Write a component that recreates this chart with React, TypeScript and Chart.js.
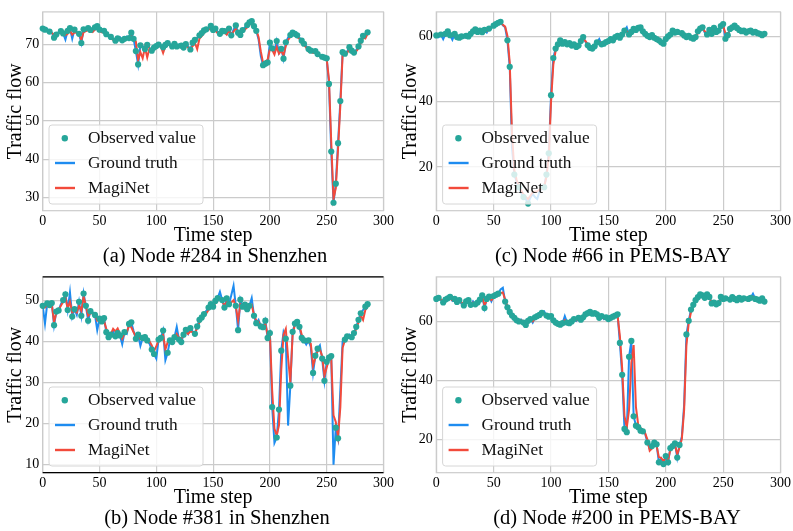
import React, { useEffect, useRef } from 'react';
import { Chart, registerables } from 'chart.js';

Chart.register(...registerables);

const _ = null;
// time axis (every second time step)
const timeSteps: number[] = Array.from({ length: 144 }, (_v, i) => i * 2);
const xTicks = [0, 50, 100, 150, 200, 250, 300];

// (a) Node #284 in Shenzhen
const yTicksA = [30, 40, 50, 60, 70];
const gtA = [
  74.2, 73.9, 74.1, 73.4, 73.1, 71.8, 72.6, 73.2, 73.5, 72.9,
  71.3, 73.6, 74.3, 71.5, 73.9, 73.2, 72.8, 70.4, 74.0, 73.6,
  74.3, 73.8, 73.5, 74.5, 74.8, 73.9, 73.3, 73.6, 72.7, 72.3,
  72.0, 71.5, 71.0, 71.6, 71.9, 71.1, 71.5, 72.1, 71.7, 73.1,
  71.5, 68.3, 64.8, 69.8, 69.6, 68.8, 69.9, 69.1, 68.4, 69.2,
  69.6, 70.0, 69.8, 69.3, 69.9, 70.4, 70.1, 69.5, 70.2, 69.5,
  70.0, 69.7, 69.2, 70.1, 69.5, 68.7, 70.5, 71.2, 71.7, 72.4,
  73.0, 73.7, 74.0, 74.4, 74.9, 73.8, 74.2, 73.4, 72.8, 73.6,
  73.5, 72.8, 74.2, 72.4, 73.9, 75.0, 73.1, 72.5, 73.8, 74.5,
  75.1, 75.8, 76.1, 74.8, 73.6, 71.4, 67.0, 64.6, 65.0, 65.3,
  70.5, 69.0, 68.2, 70.9, 67.8, 68.9, 66.3, 70.6, 71.8, 72.5,
  73.1, 72.8, 72.4, 71.8, 71.0, 70.2, 69.6, 68.8, 68.4, 68.1,
  68.3, 67.5, 67.1, 66.8, 66.6, 66.4, 59.7, 42.0, 28.6, 33.6,
  44.2, 55.2, 68.0, 67.6, 68.2, 69.3, 68.4, 67.9, 68.6, 69.5,
  71.0, 72.3, 72.0, 73.2,
];
const predA = [
  73.8, 73.6, 73.8, 73.6, 73.0, 72.6, 72.4, 73.0, 73.2, 72.9,
  72.4, 72.8, 73.6, 72.6, 73.2, 73.0, 72.9, 71.2, 73.2, 73.5,
  73.8, 73.6, 73.3, 73.9, 74.2, 73.6, 73.2, 73.2, 72.4, 72.2,
  71.6, 71.2, 70.9, 71.3, 71.5, 71.0, 71.2, 71.8, 71.6, 72.3,
  71.6, 70.8, 66.0, 68.0, 66.4, 69.2, 66.6, 69.0, 68.2, 68.6,
  69.4, 69.6, 69.5, 67.8, 69.6, 70.0, 69.8, 69.4, 69.8, 69.3,
  69.6, 69.4, 69.0, 69.7, 69.2, 68.6, 69.6, 70.4, 68.8, 71.6,
  72.2, 73.1, 73.6, 73.9, 74.2, 73.5, 73.6, 73.0, 72.7, 73.2,
  73.2, 72.6, 73.6, 72.6, 73.4, 74.2, 73.0, 72.6, 73.4, 73.9,
  74.5, 75.2, 75.4, 74.6, 73.8, 72.0, 68.2, 65.2, 65.6, 66.0,
  68.8, 68.6, 67.4, 69.4, 67.6, 68.4, 67.2, 69.6, 71.2, 72.0,
  72.6, 72.4, 72.0, 71.5, 70.8, 70.0, 69.2, 68.2, 68.2, 67.8,
  67.9, 67.2, 66.9, 66.6, 66.4, 66.2, 60.8, 44.5, 29.6, 32.4,
  42.8, 54.0, 67.2, 67.4, 67.8, 68.8, 68.2, 67.6, 68.2, 69.0,
  70.4, 71.8, 71.6, 72.8,
];
const obsA = [
  74.2, 73.9, _, 73.4, _, 71.8, 72.6, _, 73.5, 72.9,
  _, 73.6, 74.3, _, 73.9, _, 72.8, 70.4, 74.0, _,
  74.3, 73.8, _, 74.5, 74.8, 73.9, _, 73.6, 72.7, _,
  72.0, _, 71.0, 71.6, _, 71.1, 71.5, _, 71.7, 73.1,
  71.5, 68.3, 64.8, 69.8, _, 68.8, 69.9, _, 68.4, 69.2,
  69.6, 70.0, _, 69.3, 69.9, 70.4, _, 69.5, 70.2, 69.5,
  _, 69.7, 69.2, 70.1, _, 68.7, 70.5, 71.2, _, 72.4,
  73.0, 73.7, 74.0, _, 74.9, 73.8, 74.2, _, 72.8, 73.6,
  73.5, _, 74.2, 72.4, _, 75.0, 73.1, 72.5, 73.8, _,
  75.1, 75.8, 76.1, 74.8, 73.6, _, _, 64.6, 65.0, 65.3,
  70.5, 69.0, _, 70.9, _, 68.9, 66.3, 70.6, _, 72.5,
  73.1, 72.8, 72.4, _, 71.0, 70.2, _, 68.8, 68.4, _,
  68.3, 67.5, _, 66.8, 66.6, 66.4, 59.7, 42.0, 28.6, 33.6,
  44.2, 55.2, 68.0, 67.6, _, 69.3, 68.4, 67.9, _, 69.5,
  71.0, 72.3, _, 73.2,
];

// (b) Node #381 in Shenzhen
const yTicksB = [10, 20, 30, 40, 50];
const gtB = [
  48.6, 44.3, 49.2, 48.8, 49.3, 43.9, 47.2, 47.5, 49.0, 50.0,
  51.4, 47.6, 51.9, 46.0, 47.8, 46.4, 49.6, 46.2, 51.6, 48.6,
  45.0, 47.3, 47.0, 46.4, 42.7, 45.5, 44.8, 45.6, 42.2, 41.0,
  41.6, 42.4, 41.2, 42.0, 41.4, 39.3, 42.2, 41.8, 44.2, 44.6,
  42.5, 40.6, 41.6, 38.9, 40.8, 41.0, 40.2, 39.4, 38.0, 36.9,
  35.8, 40.4, 40.8, 42.6, 35.4, 37.2, 40.2, 39.8, 41.0, 43.5,
  40.4, 39.8, 41.6, 42.8, 41.8, 43.2, 42.4, 41.8, 43.6, 45.2,
  45.8, 46.6, 47.4, 48.2, 49.0, 48.4, 49.8, 50.5, 52.0, 50.0,
  48.2, 50.4, 49.0, 51.2, 53.5, 48.6, 42.7, 50.1, 48.4, 48.9,
  47.8, 48.6, 50.5, 46.2, 44.4, 45.2, 43.6, 43.4, 45.0, 40.8,
  42.0, 24.0, 15.3, 16.6, 23.4, 37.7, 42.2, 40.6, 19.5, 29.2,
  42.3, 44.3, 44.7, 43.5, 40.8, 40.2, 39.2, 40.2, 38.6, 32.3,
  36.5, 38.2, 39.0, 35.8, 30.4, 35.0, 36.0, 36.4, 10.0, 19.0,
  16.4, 28.0, 40.0, 40.4, 41.2, 41.6, 41.0, 42.0, 43.5, 45.2,
  46.8, 47.6, 48.4, 49.0,
];
const predB = [
  48.4, 48.2, 48.8, 48.6, 49.0, 44.6, 47.0, 47.6, 48.6, 49.6,
  50.6, 48.0, 49.6, 47.0, 47.6, 47.0, 48.6, 47.4, 50.8, 48.6,
  46.2, 46.8, 46.8, 46.6, 45.0, 45.2, 45.2, 45.0, 43.0, 42.0,
  41.8, 43.0, 42.4, 43.1, 41.8, 40.6, 42.0, 42.2, 43.8, 43.4,
  42.2, 41.2, 41.4, 40.6, 41.0, 41.4, 40.6, 40.0, 39.0, 37.6,
  38.8, 40.2, 40.8, 41.6, 38.0, 39.8, 40.2, 39.8, 40.6, 41.8,
  40.8, 40.6, 41.4, 42.2, 41.8, 42.4, 42.2, 42.0, 43.2, 44.6,
  45.4, 46.2, 46.8, 47.6, 48.4, 48.6, 49.2, 49.8, 50.4, 49.8,
  48.6, 49.6, 49.0, 49.4, 50.0, 48.4, 45.0, 49.0, 48.6, 48.6,
  48.0, 48.4, 48.8, 46.4, 45.0, 44.8, 43.8, 43.6, 44.2, 41.6,
  41.8, 28.0, 18.8, 17.0, 19.6, 33.0, 41.6, 43.0, 36.0, 30.0,
  41.6, 44.0, 44.4, 43.8, 41.6, 40.6, 39.8, 40.0, 39.4, 34.0,
  36.0, 37.6, 38.0, 36.4, 31.6, 33.6, 35.6, 35.8, 22.0, 20.4,
  16.8, 24.0, 38.4, 40.2, 40.8, 41.2, 41.2, 41.8, 43.0, 44.6,
  46.2, 45.2, 47.6, 48.4,
];
const obsB = [
  48.6, _, 49.2, 48.8, 49.3, 43.9, 47.2, 47.5, _, 50.0,
  51.4, 47.6, _, 46.0, 47.8, _, 49.6, 46.2, 51.6, 48.6,
  45.0, 47.3, _, 46.4, _, 45.5, 44.8, 45.6, 42.2, 41.0,
  41.6, _, 41.2, 42.0, 41.4, _, 42.2, _, 44.2, 44.6,
  _, 40.6, 41.6, _, 40.8, 41.0, 40.2, _, 38.0, 36.9,
  _, 40.4, 40.8, 42.6, _, 37.2, 40.2, 39.8, 41.0, _,
  40.4, 39.8, 41.6, 42.8, _, 43.2, _, 41.8, 43.6, 45.2,
  45.8, 46.6, _, 48.2, 49.0, 48.4, 49.8, 50.5, _, 50.0,
  48.2, 50.4, 49.0, _, _, 48.6, 42.7, 50.1, 48.4, 48.9,
  47.8, 48.6, _, 46.2, 44.4, _, 43.6, 43.4, 45.0, 40.8,
  42.0, 24.0, _, 16.6, 23.4, 37.7, _, 40.6, _, 29.2,
  42.3, 44.3, 44.7, 43.5, 40.8, 40.2, _, 40.2, _, 32.3,
  36.5, 38.2, _, 35.8, 30.4, 35.0, 36.0, 36.4, _, 19.0,
  16.4, _, _, 40.4, 41.2, _, 41.0, 42.0, 43.5, 45.2,
  46.8, _, 48.4, 49.0,
];

// (c) Node #66 in PEMS-BAY
const yTicksC = [20, 40, 60];
const gtC = [
  60.3, 59.8, 60.6, 59.2, 60.8, 61.6, 60.4, 59.0, 60.8, 59.8,
  59.6, 60.0, 59.6, 60.2, 60.0, 60.8, 61.6, 62.2, 61.4, 61.8,
  61.3, 62.0, 61.2, 62.4, 63.0, 63.3, 63.8, 64.2, 64.5, 63.4,
  62.8, 58.8, 50.7, 26.0, 17.7, 15.5, 13.8, 12.0, 10.8, 10.2,
  8.8, 10.6, 11.8, 10.8, 10.2, 12.6, 13.4, 13.8, 17.7, 24.2,
  42.0, 53.4, 56.3, 57.6, 58.8, 57.8, 58.3, 57.6, 58.0, 57.2,
  57.6, 56.8, 57.2, 58.6, 59.8, 58.4, 57.3, 56.5, 56.3, 57.0,
  58.2, 59.2, 57.6, 57.8, 58.3, 58.6, 59.2, 58.8, 59.8, 60.2,
  59.6, 60.6, 61.8, 62.8, 60.6, 61.4, 62.3, 62.0, 62.6, 62.8,
  61.6, 60.8, 60.2, 59.8, 60.4, 59.6, 59.2, 58.8, 58.2, 57.8,
  59.2, 60.0, 60.6, 61.8, 61.2, 61.4, 60.8, 61.0, 60.3, 59.8,
  60.2, 59.6, 59.3, 59.8, 61.6, 62.4, 62.8, 61.2, 60.6, 62.0,
  60.8, 62.6, 61.4, 61.8, 63.2, 63.8, 59.3, 60.4, 62.3, 62.8,
  63.3, 62.6, 62.0, 61.6, 61.8, 61.2, 61.6, 61.8, 61.2, 61.4,
  61.0, 60.8, 60.4, 60.8,
];
const predC = [
  60.4, 60.2, 60.6, 60.4, 60.6, 61.0, 60.8, 60.2, 60.4, 60.0,
  59.8, 60.0, 59.8, 60.0, 60.2, 60.6, 61.2, 61.8, 61.6, 61.6,
  61.4, 61.8, 61.6, 62.2, 62.8, 63.2, 63.6, 64.0, 64.2, 63.6,
  63.0, 60.2, 52.0, 30.0, 19.0, 16.0, 14.4, 12.8, 11.6, 10.8,
  10.2, 11.2, 12.2, 12.4, 12.6, 13.0, 13.4, 14.0, 17.0, 23.0,
  40.0, 51.4, 55.6, 57.0, 58.2, 58.0, 58.0, 57.8, 57.8, 57.4,
  57.4, 57.2, 57.4, 58.2, 59.2, 58.6, 57.6, 57.0, 56.8, 57.2,
  57.8, 58.4, 58.0, 57.8, 58.2, 58.6, 59.0, 59.0, 59.6, 60.0,
  59.8, 60.4, 61.2, 61.6, 61.0, 61.4, 62.0, 62.0, 62.4, 62.4,
  61.6, 61.0, 60.4, 60.0, 60.2, 59.8, 59.4, 59.0, 58.6, 58.4,
  59.2, 59.8, 60.4, 61.2, 61.2, 61.2, 60.8, 60.8, 60.4, 60.0,
  60.2, 59.8, 59.6, 59.8, 61.0, 62.0, 62.4, 61.6, 61.0, 61.6,
  61.0, 62.0, 61.6, 61.8, 62.8, 63.2, 61.0, 60.6, 62.0, 62.6,
  63.0, 62.6, 62.2, 61.8, 61.8, 61.4, 61.6, 61.6, 61.4, 61.2,
  61.0, 60.8, 60.6, 60.6,
];
const obsC = [
  60.3, _, 60.6, _, 60.8, 61.6, 60.4, _, 60.8, 59.8,
  59.6, 60.0, _, 60.2, 60.0, 60.8, 61.6, 62.2, 61.4, 61.8,
  61.3, 62.0, _, 62.4, _, 63.3, 63.8, 64.2, 64.5, _,
  _, 58.8, 50.7, _, 17.7, _, 13.8, _, 10.8, _,
  8.8, _, _, _, _, _, _, 13.8, 17.7, 24.2,
  42.0, 53.4, 56.3, 57.6, 58.8, 57.8, 58.3, 57.6, 58.0, 57.2,
  57.6, 56.8, 57.2, 58.6, 59.8, _, 57.3, 56.5, 56.3, 57.0,
  58.2, _, 57.6, 57.8, 58.3, 58.6, 59.2, 58.8, 59.8, 60.2,
  59.6, 60.6, 61.8, _, 60.6, 61.4, 62.3, 62.0, 62.6, 62.8,
  61.6, 60.8, 60.2, 59.8, 60.4, 59.6, 59.2, 58.8, 58.2, 57.8,
  59.2, 60.0, 60.6, 61.8, 61.2, 61.4, _, 61.0, 60.3, 59.8,
  60.2, 59.6, 59.3, 59.8, 61.6, 62.4, 62.8, _, 60.6, 62.0,
  60.8, 62.6, 61.4, 61.8, 63.2, 63.8, 59.3, 60.4, 62.3, 62.8,
  63.3, 62.6, 62.0, 61.6, 61.8, 61.2, 61.6, 61.8, 61.2, 61.4,
  61.0, 60.8, 60.4, 60.8,
];

// (d) Node #200 in PEMS-BAY
const yTicksD = [20, 40, 60];
const gtD = [
  67.6, 68.0, 67.2, 66.4, 67.4, 67.8, 68.3, 67.0, 67.6, 66.6,
  67.2, 66.0, 65.4, 66.8, 67.2, 65.6, 66.8, 65.8, 66.4, 67.4,
  68.8, 64.5, 67.6, 68.4, 66.8, 68.6, 69.0, 69.4, 70.8, 71.4,
  66.7, 64.8, 63.2, 62.0, 61.2, 60.4, 60.0, 60.6, 59.6, 58.8,
  60.2, 60.8, 59.6, 61.4, 61.8, 62.2, 62.9, 63.4, 62.0, 61.6,
  61.8, 60.4, 59.6, 59.2, 58.9, 59.4, 61.8, 59.6, 59.4, 60.0,
  60.8, 60.2, 61.2, 60.6, 61.4, 62.4, 62.8, 63.2, 62.6, 62.8,
  62.4, 61.2, 61.8, 60.8, 61.4, 60.8, 61.2, 61.6, 62.0, 62.4,
  52.7, 41.9, 23.6, 22.5, 48.0, 53.4, 27.9, 24.7, 24.2, 23.0,
  22.8, 22.0, 19.0, 16.8, 17.8, 19.0, 18.4, 12.3, 13.6, 11.7,
  14.4, 12.3, 17.1, 17.8, 18.7, 13.9, 18.2, 20.9, 31.7, 55.6,
  60.2, 64.0, 65.6, 67.2, 68.2, 69.2, 68.8, 68.0, 69.2, 68.3,
  66.1, 66.4, 65.8, 66.2, 68.3, 67.6, 67.8, 68.0, 67.4, 68.2,
  67.6, 67.2, 68.0, 67.4, 67.8, 67.2, 67.6, 68.0, 69.4, 67.6,
  67.4, 67.0, 67.8, 66.7,
];
const predD = [
  67.4, 67.6, 67.4, 67.0, 67.2, 67.6, 67.8, 67.2, 67.2, 66.8,
  66.8, 66.4, 66.0, 66.4, 66.8, 66.2, 66.4, 66.2, 66.4, 67.0,
  68.2, 65.6, 67.0, 68.0, 67.2, 68.0, 68.6, 68.8, 69.6, 69.8,
  67.4, 65.2, 63.6, 62.4, 61.6, 60.8, 60.4, 60.4, 60.0, 59.4,
  60.0, 60.4, 60.0, 61.0, 61.4, 61.8, 62.4, 62.8, 62.0, 61.6,
  61.6, 60.6, 59.8, 59.4, 59.2, 59.4, 60.4, 59.8, 59.6, 60.0,
  60.4, 60.4, 60.8, 60.8, 61.2, 62.0, 62.4, 62.8, 62.6, 62.6,
  62.2, 61.4, 61.6, 61.0, 61.2, 61.0, 61.0, 61.4, 61.8, 62.0,
  55.0, 44.0, 28.0, 24.0, 30.0, 46.0, 52.0, 31.0, 25.0, 24.0,
  23.0, 22.2, 20.0, 16.2, 17.0, 18.6, 18.0, 14.0, 13.8, 12.6,
  14.2, 13.0, 16.6, 17.4, 18.2, 15.0, 17.4, 20.2, 30.0, 52.0,
  59.4, 63.2, 65.2, 66.6, 67.8, 68.6, 68.4, 67.8, 68.6, 68.0,
  66.6, 66.6, 66.2, 66.4, 67.8, 67.6, 67.6, 67.8, 67.4, 67.8,
  67.4, 67.2, 67.6, 67.4, 67.6, 67.2, 67.4, 67.6, 68.4, 67.6,
  67.2, 67.0, 67.4, 67.0,
];
const obsD = [
  67.6, 68.0, _, 66.4, 67.4, 67.8, 68.3, _, 67.6, 66.6,
  67.2, _, 65.4, 66.8, 67.2, 65.6, _, 65.8, 66.4, 67.4,
  68.8, 64.5, 67.6, 68.4, _, 68.6, 69.0, 69.4, _, _,
  66.7, 64.8, 63.2, 62.0, 61.2, 60.4, 60.0, _, 59.6, 58.8,
  60.2, 60.8, _, 61.4, 61.8, 62.2, 62.9, _, 62.0, 61.6,
  61.8, 60.4, 59.6, 59.2, 58.9, 59.4, _, 59.6, 59.4, 60.0,
  60.8, _, 61.2, 60.6, 61.4, 62.4, 62.8, 63.2, 62.6, 62.8,
  62.4, 61.2, 61.8, _, 61.4, 60.8, 61.2, 61.6, 62.0, 62.4,
  52.7, 41.9, 23.6, 22.5, 48.0, 53.4, 27.9, 24.7, 24.2, 23.0,
  22.8, _, 19.0, _, 17.8, 19.0, 18.4, 12.3, _, 11.7,
  14.4, 12.3, 17.1, 17.8, 18.7, 13.9, 18.2, _, _, 55.6,
  60.2, 64.0, 65.6, 67.2, 68.2, 69.2, 68.8, 68.0, 69.2, 68.3,
  66.1, 66.4, 65.8, 66.2, 68.3, 67.6, 67.8, _, 67.4, 68.2,
  67.6, 67.2, 68.0, 67.4, 67.8, _, 67.6, 68.0, _, 67.6,
  67.4, 67.0, 67.8, 66.7,
];

const OBS_COLOR = '#26a69a';
const GT_COLOR = '#1e8cf0';
const PRED_COLOR = '#f24a3b';
const GRID_COLOR = '#cbcbcb';
const FONT = '"Liberation Serif", "Times New Roman", serif';
const TITLE_SIZE = 20;
const TICK_SIZE = 14;
const CAPTION_SIZE = 20.5;

type Spec = {
  caption: string;
  gt: (number | null)[];
  pred: (number | null)[];
  obs: (number | null)[];
  yTicks: number[];
  yMin: number;
  yMax: number;
  left: number;
  top: number;
  width: number;
  height: number;
  areaL: number;
  areaR: number;
  areaT: number;
  areaB: number;
  yTitlePad: number;
  xTitlePad: number;
  blackTB: boolean;
  capX: number;
  capBase: number;
};

const specs: Spec[] = [
  {
    caption: '(a) Node #284 in Shenzhen', gt: gtA, pred: predA, obs: obsA, yTicks: yTicksA,
    yMin: 26.52, yMax: 78.54, left: 0, top: 0, width: 396, height: 265,
    areaL: 42.7, areaR: 386.7, areaT: 5.7, areaB: 210.7, yTitlePad: 4.0, xTitlePad: 17.0,
    blackTB: false, capX: 215, capBase: 261.7,
  },
  {
    caption: '(c) Node #66 in PEMS-BAY', gt: gtC, pred: predC, obs: obsC, yTicks: yTicksC,
    yMin: 6.62, yMax: 67.52, left: 396, top: 0, width: 397, height: 265,
    areaL: 40.3, areaR: 385, areaT: 5.7, areaB: 210.7, yTitlePad: 3.0, xTitlePad: 17.0,
    blackTB: false, capX: 613, capBase: 261.7,
  },
  {
    caption: '(b) Node #381 in Shenzhen', gt: gtB, pred: predB, obs: obsB, yTicks: yTicksB,
    yMin: 8.05, yMax: 55.64, left: 0, top: 265, width: 396, height: 266,
    areaL: 42.7, areaR: 386.7, areaT: 2.7, areaB: 207.7, yTitlePad: 4.0, xTitlePad: 20.8,
    blackTB: true, capX: 217, capBase: 523.7,
  },
  {
    caption: '(d) Node #200 in PEMS-BAY', gt: gtD, pred: predD, obs: obsD, yTicks: yTicksD,
    yMin: 8.78, yMax: 75.07, left: 396, top: 265, width: 397, height: 266,
    areaL: 40.3, areaR: 385, areaT: 2.7, areaB: 207.7, yTitlePad: 3.0, xTitlePad: 20.8,
    blackTB: false, capX: 617, capBase: 523.7,
  },
];

function roundRectPath(ctx: CanvasRenderingContext2D, x: number, y: number, w: number, h: number, r: number) {
  ctx.beginPath();
  ctx.moveTo(x + r, y);
  ctx.lineTo(x + w - r, y);
  ctx.arcTo(x + w, y, x + w, y + r, r);
  ctx.lineTo(x + w, y + h - r);
  ctx.arcTo(x + w, y + h, x + w - r, y + h, r);
  ctx.lineTo(x + r, y + h);
  ctx.arcTo(x, y + h, x, y + h - r, r);
  ctx.lineTo(x, y + r);
  ctx.arcTo(x, y, x + r, y, r);
  ctx.closePath();
}

function Panel({ spec }: { spec: Spec }) {
  const ref = useRef<HTMLCanvasElement | null>(null);
  useEffect(() => {
    const canvas = ref.current;
    if (!canvas) return;
    const framePlugin = {
      id: 'frame',
      beforeDatasetsDraw(chart: any) {
        const { ctx } = chart;
        const { left, top, right, bottom } = chart.chartArea;
        ctx.save();
        ctx.strokeStyle = GRID_COLOR;
        ctx.lineWidth = 1.2;
        ctx.strokeRect(left, top, right - left, bottom - top);
        ctx.restore();
      },
      afterDatasetsDraw(chart: any) {
        if (!spec.blackTB) return;
        const { ctx } = chart;
        const { left, top, right, bottom } = chart.chartArea;
        ctx.save();
        ctx.strokeStyle = '#000';
        ctx.lineWidth = 1.3;
        ctx.beginPath();
        ctx.moveTo(left, top);
        ctx.lineTo(right, top);
        ctx.moveTo(left, bottom);
        ctx.lineTo(right, bottom);
        ctx.stroke();
        ctx.restore();
      },
    };
    const legendPlugin = {
      id: 'boxLegend',
      afterDraw(chart: any) {
        const { ctx } = chart;
        const { left, bottom } = chart.chartArea;
        const bw = 154;
        const bh = 79;
        const bx = left + 6.3;
        const by = bottom - 6.7 - bh;
        ctx.save();
        roundRectPath(ctx, bx, by, bw, bh, 3);
        ctx.fillStyle = 'rgba(255,255,255,0.8)';
        ctx.fill();
        ctx.strokeStyle = '#d6d6d6';
        ctx.lineWidth = 1;
        ctx.stroke();
        const rows = [by + 13.3, by + 38, by + 63];
        ctx.fillStyle = OBS_COLOR;
        ctx.beginPath();
        ctx.arc(bx + 15.8, rows[0], 3.2, 0, Math.PI * 2);
        ctx.fill();
        ctx.lineWidth = 2.4;
        ctx.strokeStyle = GT_COLOR;
        ctx.beginPath();
        ctx.moveTo(bx + 6, rows[1]);
        ctx.lineTo(bx + 26, rows[1]);
        ctx.stroke();
        ctx.strokeStyle = PRED_COLOR;
        ctx.beginPath();
        ctx.moveTo(bx + 6, rows[2]);
        ctx.lineTo(bx + 26, rows[2]);
        ctx.stroke();
        ctx.fillStyle = '#111';
        ctx.font = '17.3px ' + FONT;
        ctx.textBaseline = 'middle';
        ctx.textAlign = 'left';
        ctx.fillText('Observed value', bx + 39, rows[0]);
        ctx.fillText('Ground truth', bx + 39, rows[1]);
        ctx.fillText('MagiNet', bx + 39, rows[2]);
        ctx.restore();
      },
    };
    const chart = new Chart(canvas, {
      type: 'line',
      data: {
        labels: timeSteps,
        datasets: [
          {
            label: 'Observed value',
            data: spec.obs,
            showLine: false,
            pointRadius: 3.1,
            pointHoverRadius: 3.1,
            pointBackgroundColor: OBS_COLOR,
            pointBorderColor: OBS_COLOR,
            pointBorderWidth: 0,
            backgroundColor: OBS_COLOR,
            borderColor: OBS_COLOR,
            clip: false,
          } as any,
          {
            label: 'MagiNet',
            data: spec.pred,
            borderColor: PRED_COLOR,
            backgroundColor: PRED_COLOR,
            borderWidth: 2,
            pointRadius: 0,
            tension: 0,
            fill: false,
          },
          {
            label: 'Ground truth',
            data: spec.gt,
            borderColor: GT_COLOR,
            backgroundColor: GT_COLOR,
            borderWidth: 2,
            pointRadius: 0,
            tension: 0,
            fill: false,
          },
        ],
      },
      options: {
        responsive: false,
        animation: false,
        devicePixelRatio: 1,
        layout: {
          padding: {
            left: 0,
            right: spec.width - spec.areaR,
            top: spec.areaT,
            bottom: 0,
          },
        },
        plugins: {
          legend: { display: false },
          tooltip: { enabled: false },
          title: { display: false },
        },
        scales: {
          x: {
            type: 'linear',
            min: 0,
            max: 300,
            afterBuildTicks: (scale: any) => {
              scale.ticks = xTicks.map((v) => ({ value: v }));
            },
            afterFit: (scale: any) => {
              scale.height = spec.height - spec.areaB;
            },
            grid: { color: GRID_COLOR, lineWidth: 1.2, drawTicks: false },
            border: { display: false },
            ticks: {
              padding: 2,
              maxRotation: 0,
              autoSkip: false,
              color: '#000',
              font: { family: FONT, size: TICK_SIZE },
            },
            title: {
              display: true,
              text: 'Time step',
              color: '#000',
              font: { family: FONT, size: TITLE_SIZE },
              padding: { top: 0, bottom: spec.xTitlePad },
            },
          },
          y: {
            type: 'linear',
            min: spec.yMin,
            max: spec.yMax,
            afterBuildTicks: (scale: any) => {
              scale.ticks = spec.yTicks.map((v) => ({ value: v }));
            },
            afterFit: (scale: any) => {
              scale.width = spec.areaL;
            },
            grid: { color: GRID_COLOR, lineWidth: 1.2, drawTicks: false },
            border: { display: false },
            ticks: {
              padding: 3.5,
              color: '#000',
              font: { family: FONT, size: TICK_SIZE },
            },
            title: {
              display: true,
              text: 'Traffic flow',
              color: '#000',
              font: { family: FONT, size: TITLE_SIZE },
              padding: { top: spec.yTitlePad, bottom: 0 },
            },
          },
        },
      } as any,
      plugins: [framePlugin, legendPlugin],
    });
    return () => chart.destroy();
  }, [spec]);
  return (
    <canvas
      ref={ref}
      width={spec.width}
      height={spec.height}
      style={{ position: 'absolute', left: spec.left, top: spec.top, width: spec.width, height: spec.height }}
    />
  );
}

export default function App() {
  return (
    <div style={{ position: 'absolute', left: 0, top: 0, width: 793, height: 531, background: '#fff', overflow: 'hidden' }}>
      {specs.map((s) => (
        <Panel key={s.caption} spec={s} />
      ))}
      {specs.map((s) => (
        <div
          key={'cap' + s.caption}
          style={{
            position: 'absolute',
            left: s.capX - 200,
            width: 400,
            top: s.capBase - 17.9,
            textAlign: 'center',
            fontFamily: FONT,
            fontSize: CAPTION_SIZE,
            lineHeight: '22px',
            whiteSpace: 'nowrap',
            color: '#000',
          }}
        >
          {s.caption}
        </div>
      ))}
    </div>
  );
}
